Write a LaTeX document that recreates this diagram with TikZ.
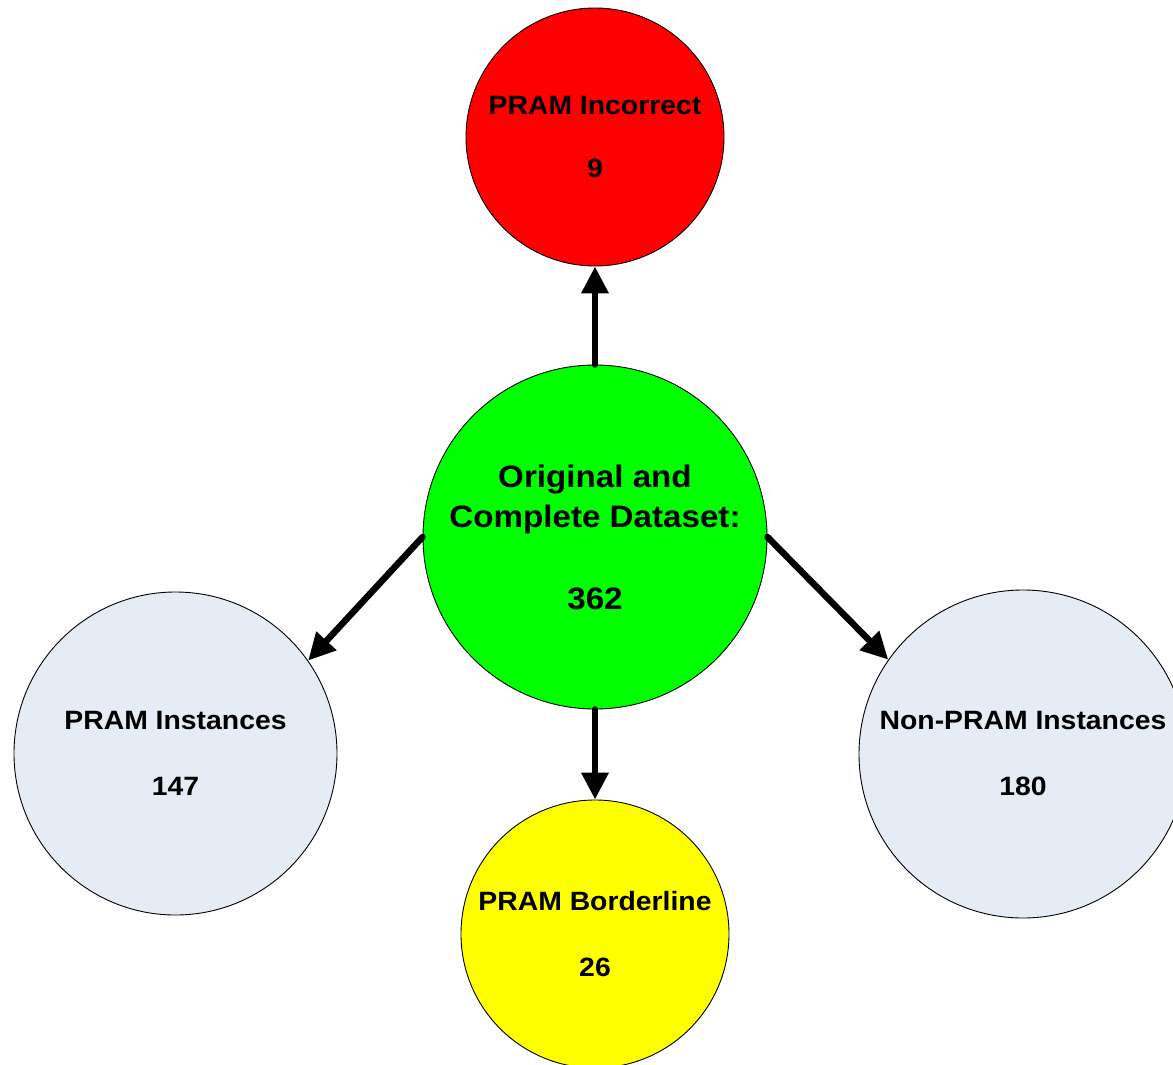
\documentclass[tikz,border=0pt]{standalone}
\usepackage{fontspec}
\setmainfont{Liberation Sans}[FakeStretch=1.07]
\usetikzlibrary{arrows.meta}
\definecolor{pgray}{RGB}{230,236,246}
\tikzset{
  blob/.style={circle, draw=black, line width=0.9pt, inner sep=0pt, align=center, font=\bfseries\fontsize{26.5}{30}\selectfont},
  big/.style={font=\bfseries\fontsize{31}{40}\selectfont},
  arr/.style={line width=6.5pt, line cap=round, -{Triangle[width=26pt,length=27pt]}}
}
\begin{document}
\begin{tikzpicture}[x=1pt,y=-1pt]
\useasboundingbox[fill=white] (0,0) rectangle (1173,1065);
\node[blob, fill={rgb,255:red,255;green,0;blue,0}, minimum size=258pt] (inc) at (595,137) {PRAM Incorrect\\[33pt]9};
\node[blob, big, fill={rgb,255:red,0;green,255;blue,0}, minimum size=344pt] (orig) at (595,537) {Original and\\Complete Dataset:\\[42pt]362};
\node[blob, fill=pgray, minimum size=323pt] (pram) at (175.5,753.5) {PRAM Instances\\[36pt]147};
\node[blob, fill=pgray, minimum size=328pt] (non) at (1023,754) {Non-PRAM Instances\\[36pt]180};
\node[blob, fill={rgb,255:red,255;green,255;blue,0}, minimum size=268pt] (bord) at (595,934) {PRAM Borderline\\[36pt]26};
\draw[arr] (orig.north) -- (inc.south);
\draw[arr] (orig.south) -- (bord.north);
\draw[arr] (orig.west) -- (pram.35);
\draw[arr] (orig.east) -- (non.145);
\end{tikzpicture}
\end{document}
